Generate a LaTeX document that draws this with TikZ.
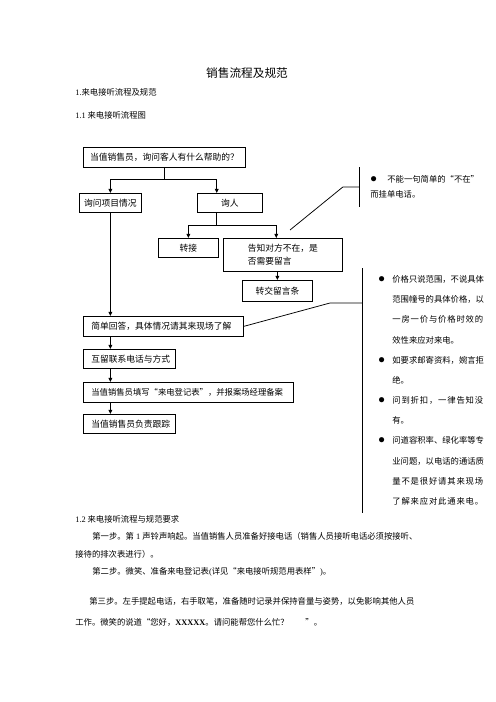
\documentclass[tikz,border=0pt]{standalone}
\usepackage{fontspec}
\setmainfont{Noto Sans CJK SC}
\newfontfamily\lat{Liberation Serif}
\usetikzlibrary{arrows.meta,calc}
\newcommand\notedot{\scalebox{1.6}{$\bullet$}}
\newcommand\bul{\makebox[16.8pt][l]{\notedot}}
\newcommand\spr[1]{{\addfontfeature{LetterSpace=10}#1}}

\begin{document}
\begin{tikzpicture}[x=1.2pt,y=-1.2pt,line width=.9pt,>={Triangle[length=5pt,width=4.5pt]},
 txt/.style={anchor=west,inner sep=0pt,font=\fontsize{10pt}{12pt}\selectfont},
 box/.style={draw,inner sep=0pt,anchor=north west,font=\fontsize{10.5pt}{15pt}\selectfont},
 lbox/.style={box,align=left,inner xsep=9.6pt,text width=#1},
 note/.style={anchor=north west,inner ysep=0pt,align=left}]
\useasboundingbox (0,0) rectangle (496,702);

\node[inner sep=0pt,font=\fontsize{14pt}{16pt}\selectfont] (title) at (247,73) {销售流程及规范};
\node[txt] (h1) at (75,92) {{\lat 1.}来电接听流程及规范};
\node[txt] (h2) at (75,115) {{\lat 1.1} 来电接听流程图};

\node[box,minimum width=194.4pt,minimum height=24pt] (q0) at (83,147) {当值销售员，询问客人有什么帮助的？};
\node[box,minimum width=74.4pt,minimum height=22.8pt] (q1) at (79,193) {询问项目情况};
\node[box,minimum width=78pt,minimum height=22.8pt] (q2) at (197,193) {询人};
\node[box,minimum width=72pt,minimum height=22.8pt] (q3) at (158,238) {转接};
\node[box,align=left,minimum width=142.8pt,minimum height=39.6pt] (q4) at (223,238) {告知对方不在，是\\否需要留言};
\node[box,minimum width=84pt,minimum height=25.2pt] (q5) at (242,280) {转交留言条};
\node[lbox=172.8pt,minimum height=24pt] (q6) at (83,316) {简单回答，具体情况请其来现场了解};
\node[lbox=91.2pt,minimum height=22.8pt] (q7) at (83,349) {互留联系电话与方式};
\node[lbox=232.8pt,minimum height=24pt,font=\fontsize{10pt}{15pt}\selectfont] (q8) at (83,382) {当值销售员填写“来电登记表”，并报案场经理备案};
\node[lbox=91.2pt,minimum height=22.8pt] (q9) at (83,414) {当值销售员负责跟踪};

\draw (q0.south) -- ++(0,12) coordinate (b0);
\draw[->] (b0) -| (q1.north);
\draw[->] (b0) -| ($(q2.north west)!.3!(q2.north east)$);
\draw ($(q2.south west)!.3!(q2.south east)$) -- ++(0,13) coordinate (b1);
\draw[->] (b1) -| (q3.north);
\draw[->] (b1) -| ($(q4.north west)!.445!(q4.north east)$);
\draw[->] (q5.north |- q4.south) -- (q5.north);
\draw[->] (q1.south) -- (q1.south |- q6.north);
\draw[->] (q6.south -| q1.south) -- (q7.north -| q1.south);
\draw[->] (q7.south -| q1.south) -- (q8.north -| q1.south);
\draw[->] (q8.south -| q1.south) -- (q9.north -| q1.south);

\node[note,minimum height=46.8pt,inner xsep=13.2pt,font=\fontsize{10pt}{18pt}\selectfont] (n1) at (359,167)
 {\makebox[20.4pt][l]{\notedot}不能一句简单的“不在”\\而挂单电话。};
\draw (n1.north west) -- (n1.south west);
\coordinate (a1) at (290,230);
\draw (a1) -- ([xshift=-19.2pt]n1.west) -- (n1.west);

\node[note,minimum height=292.8pt,inner xsep=19.2pt,font=\fontsize{10pt}{24.2pt}\selectfont] (n2) at (362,268)
 {\bul 价格只说范围，不说具体\\
  \hspace*{16.8pt}范围幢号的具体价格，以\\
  \hspace*{16.8pt}\spr{一房一价与价格时效的}\\
  \hspace*{16.8pt}效性来应对来电。\\
  \bul 如要求邮寄资料，婉言拒\\
  \hspace*{16.8pt}绝。\\
  \bul \spr{问到折扣，一律告知没}\\
  \hspace*{16.8pt}有。\\
  \bul 问道容积率、绿化率等专\\
  \hspace*{16.8pt}业问题，以电话的通话质\\
  \hspace*{16.8pt}\spr{量不是很好请其来现场}\\
  \hspace*{16.8pt}\spr{了解来应对此通来电。}};
\draw (n2.north west) -- (n2.south west);
\coordinate (k2) at ($(n2.north west)+(0,35)$);
\draw (q6.east) -- ([xshift=-38.4pt]k2) -- (k2);

\node[txt] (h3) at (75,519) {{\lat 1.2} 来电接听流程与规范要求};
\node[txt] (p1) at (92,536) {第一步。第{\lat\ 1 }声铃声响起。当值销售人员准备好接电话（销售人员接听电话必须按接听、};
\node[txt] (p2) at (75,554) {接待的排次表进行）。};
\node[txt] (p3) at (92,572) {第二步。微笑、准备来电登记表{\lat (}详见“来电接听规范用表样”{\lat )}。};
\node[txt] (p4) at (89,601) {第三步。左手提起电话，右手取笔，准备随时记录并保持音量与姿势，以免影响其他人员};
\node[txt] (p5) at (75,622) {工作。微笑的说道“您好，{\lat\bfseries XXXXX}。请问能帮您什么忙？\quad\quad ”。};
\end{tikzpicture}
\end{document}
